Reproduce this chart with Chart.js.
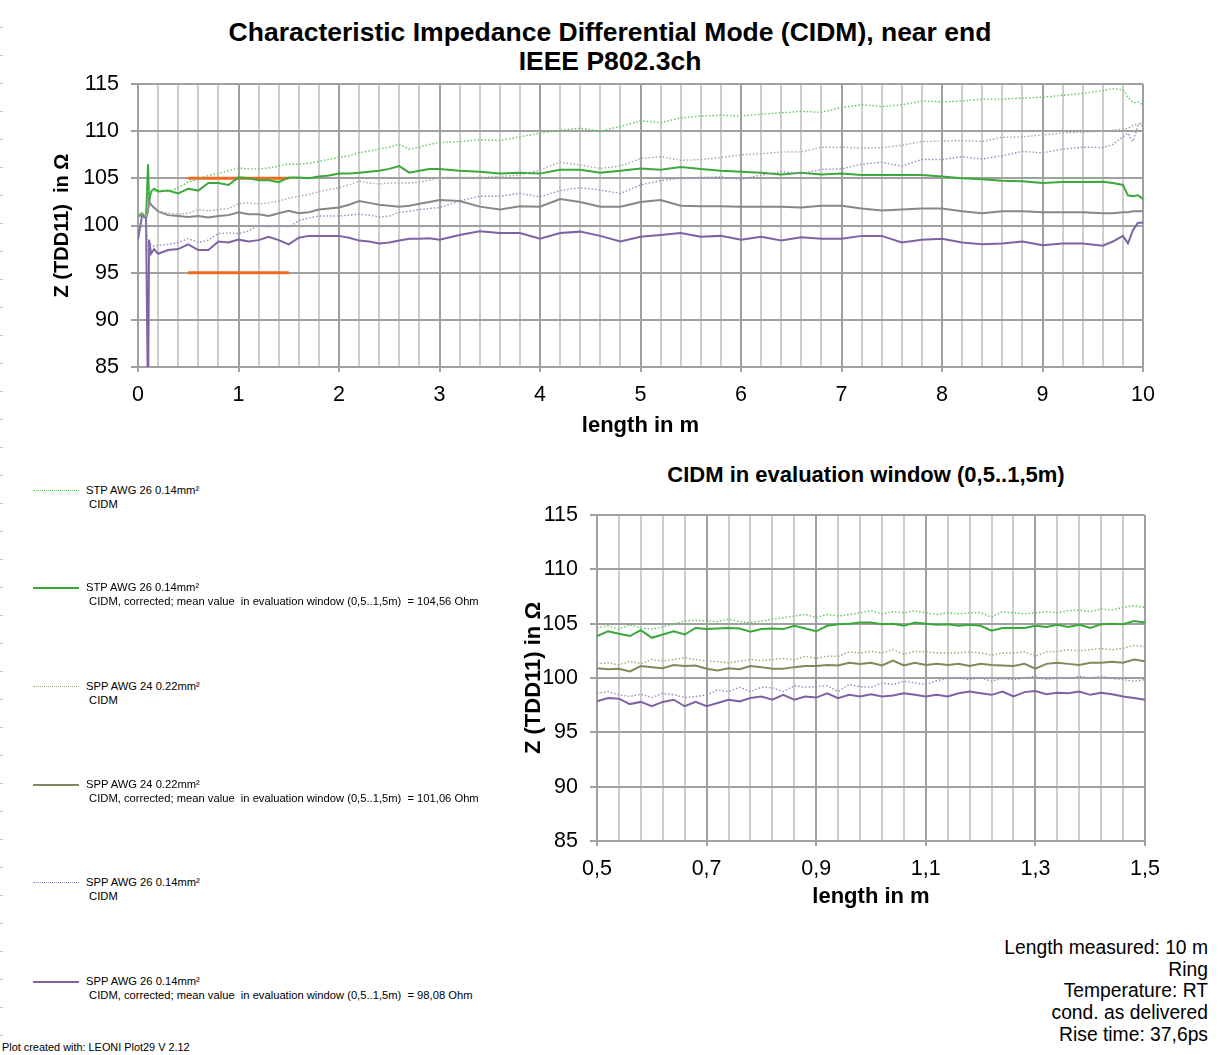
<!DOCTYPE html>
<html>
<head>
<meta charset="utf-8">
<script src="https://cdn.jsdelivr.net/npm/chart.js@4.4.1/dist/chart.umd.min.js"></script>
<style>
  body { margin: 0; background: #fff; font-family: Arial, "Liberation Sans", sans-serif; color: #000; }
  #page { position: relative; width: 1220px; height: 1055px; overflow: hidden; }
  .abs { position: absolute; }
  #edge { left: 0; top: 0; width: 3px; height: 1055px;
    background: repeating-linear-gradient(to bottom, transparent 0, transparent 27px, #c8c8c8 27px, #c8c8c8 28px); }
  #title { left: 0; top: 18px; width: 1220px; text-align: center; font-weight: bold; font-size: 26.5px; line-height: 29px; }
  #subTitle { left: 560px; top: 462px; width: 612px; text-align: center; font-weight: bold; font-size: 22px; line-height: 26px; }
  .leg { position: absolute; left: 33px; font-size: 11.2px; line-height: 13.5px; }
  .leg .smp { position: absolute; left: 0; top: 6px; width: 46px; height: 0; }
  .leg .txt { position: absolute; left: 53px; top: 0; white-space: pre; }
  #info { right: 12px; top: 937px; text-align: right; font-size: 19.3px; line-height: 21.7px; }
  #credit { left: 2px; top: 1041px; font-size: 10.9px; }
</style>
</head>
<body>
<div id="page">
  <div id="edge" class="abs"></div>
  <div id="title" class="abs">Characteristic Impedance Differential Mode (CIDM), near end<br>IEEE P802.3ch</div>
  <canvas id="topChart" class="abs" style="left:0;top:59px" width="1220" height="391"></canvas>
  <div id="subTitle" class="abs">CIDM in evaluation window (0,5..1,5m)</div>
  <canvas id="zoomChart" class="abs" style="left:440px;top:490px" width="780" height="430"></canvas>
  <div id="legend"></div>
  <div id="info" class="abs">Length measured: 10 m<br>Ring<br>Temperature: RT<br>cond. as delivered<br>Rise time: 37,6ps</div>
  <div id="credit" class="abs">Plot created with:  LEONI Plot29  V 2.12</div>
</div>
<script>
// full length 0..10 m
const topX = [0, 0.04, 0.08, 0.1, 0.11, 0.13, 0.16, 0.2, 0.3, 0.4, 0.5, 0.6, 0.7, 0.8, 0.9, 1.0,
  1.1, 1.2, 1.3, 1.4, 1.5, 1.6, 1.7, 1.8, 1.9, 2.0, 2.1, 2.2, 2.3, 2.4, 2.5, 2.6, 2.7, 2.8, 2.9, 3.0,
  3.2, 3.4, 3.6, 3.8, 4.0, 4.2, 4.4, 4.6, 4.8, 5.0, 5.2, 5.4, 5.6, 5.8, 6.0, 6.2, 6.4, 6.6, 6.8,
  7.0, 7.2, 7.4, 7.6, 7.8, 8.0, 8.2, 8.4, 8.6, 8.8, 9.0, 9.2, 9.4, 9.6, 9.7, 9.8, 9.85, 9.9, 9.95, 10];

const stpCidm = [101.0, 101.2, 101.0, 103.5, 103.0, 103.8, 103.6, 103.8, 103.6, 104.0, 104.6, 104.9, 105.3, 105.5, 105.8, 106.1,
  106.0, 106.0, 106.1, 106.3, 106.5, 106.5, 106.6, 106.8, 107.0, 107.2, 107.4, 107.7, 107.9, 108.1, 108.3, 108.6, 108.1, 108.3, 108.6, 108.8,
  108.9, 109.1, 109.0, 109.4, 109.8, 110.1, 110.3, 110.0, 110.5, 111.1, 110.9, 111.4, 111.6, 111.7, 111.6, 111.8, 111.95, 112.1, 112.0,
  112.5, 112.8, 112.6, 112.8, 113.2, 113.1, 113.2, 113.4, 113.4, 113.5, 113.6, 113.8, 114.0, 114.3, 114.5, 114.4, 113.6, 113.0, 113.1, 112.8];

const stpCorr = [101.0, 101.3, 100.8, 106.5, 102.5, 103.6, 103.9, 103.6, 103.7, 103.4, 103.9, 103.7, 104.5, 104.5, 104.3, 105.1,
  105.0, 104.8, 104.8, 104.6, 105.1, 105.1, 105.0, 105.2, 105.3, 105.5, 105.5, 105.6, 105.7, 105.8, 106.0, 106.3, 105.6, 105.8, 106.0, 106.0,
  105.8, 105.7, 105.5, 105.6, 105.5, 105.9, 105.9, 105.6, 105.8, 106.05, 105.9, 106.2, 106.0, 105.8, 105.7, 105.6, 105.4, 105.6, 105.4,
  105.5, 105.35, 105.35, 105.35, 105.35, 105.2, 105.0, 104.9, 104.75, 104.7, 104.5, 104.6, 104.6, 104.65, 104.5, 104.3, 103.2, 103.1, 103.2, 102.8];

const spp24Cidm = [101.0, 101.2, 100.9, 101.5, 102.3, 102.0, 101.8, 101.5, 101.3, 101.2, 101.3, 101.7, 101.55, 101.7, 101.8, 102.3,
  102.4, 102.3, 102.4, 102.6, 102.9, 103.1, 103.3, 103.6, 103.8, 104.0, 104.3, 104.7, 104.5, 104.4, 104.5, 104.5, 104.5, 104.6, 104.8, 105.1,
  105.1, 105.1, 105.2, 105.35, 105.9, 106.7, 106.4, 106.05, 106.3, 107.1, 107.3, 106.9, 107.0, 107.2, 107.5, 107.6, 107.8, 107.8, 108.3,
  108.3, 108.2, 108.25, 108.5, 108.9, 108.95, 109.0, 108.9, 109.35, 109.4, 109.6, 109.8, 109.9, 110.0, 110.1, 110.2, 110.3, 110.6, 110.8, 110.5];

const spp24Corr = [100.9, 101.2, 100.8, 101.5, 102.6, 102.2, 101.9, 101.5, 101.1, 101.0, 100.9, 101.0, 100.85, 101.0, 101.1, 101.4,
  101.2, 101.2, 101.0, 101.3, 101.55, 101.3, 101.4, 101.7, 101.8, 101.9, 102.2, 102.6, 102.4, 102.2, 102.1, 102.0, 102.1, 102.3, 102.5, 102.7,
  102.6, 102.0, 101.7, 102.05, 102.0, 102.8, 102.5, 102.0, 102.0, 102.5, 102.7, 102.1, 102.05, 102.05, 102.0, 102.0, 102.0, 101.9, 102.1,
  102.1, 101.8, 101.6, 101.7, 101.8, 101.8, 101.5, 101.3, 101.5, 101.5, 101.4, 101.4, 101.4, 101.3, 101.3, 101.4, 101.4, 101.5, 101.5, 101.5];

const spp26Cidm = [98.5, 101.0, 100.8, 97.0, 97.8, 98.0, 97.8, 97.9, 98.0, 98.2, 98.6, 98.2, 98.45, 99.15, 99.2, 99.15,
  99.4, 100.0, 99.85, 100.0, 99.85, 100.5, 100.8, 101.0, 101.0, 101.0, 101.1, 101.2, 101.1, 100.9, 101.0, 101.4, 101.5, 101.7, 101.8, 101.9,
  102.6, 103.1, 103.1, 103.4, 103.05, 103.7, 104.0, 103.75, 103.4, 104.3, 104.75, 105.0, 105.1, 105.15, 104.9, 105.35, 105.7, 105.5, 105.95,
  106.0, 106.5, 106.7, 106.3, 107.0, 107.0, 107.3, 107.05, 107.4, 107.85, 107.7, 108.1, 108.3, 108.25, 108.6, 109.4, 109.8, 108.9, 110.6, 111.0];

const spp26Corr = [98.5, 101.0, 100.8, 80.0, 98.5, 97.0, 97.5, 97.0, 97.4, 97.5, 98.0, 97.4, 97.4, 98.3, 98.2, 98.5,
  98.3, 98.45, 98.8, 98.45, 98.0, 98.7, 98.9, 98.9, 98.9, 98.9, 98.7, 98.4, 98.3, 98.1, 98.2, 98.4, 98.6, 98.6, 98.65, 98.5,
  99.0, 99.4, 99.2, 99.2, 98.6, 99.2, 99.35, 98.9, 98.3, 98.8, 99.0, 99.2, 98.8, 98.9, 98.5, 98.8, 98.4, 98.75, 98.6,
  98.6, 98.9, 98.9, 98.2, 98.5, 98.6, 98.2, 98.0, 98.1, 98.3, 97.9, 98.1, 98.1, 97.85, 98.3, 98.9, 98.1, 99.5, 100.3, 100.3];

// evaluation window limits
const limitX = [0.5, 1.5];
const limitHigh = [105, 105];
const limitLow = [95, 95];

// evaluation window 0.5..1.5 m
const winX = [0.50, 0.52, 0.54, 0.56, 0.58, 0.60, 0.62, 0.64, 0.66, 0.68, 0.70, 0.72, 0.74, 0.76, 0.78, 0.80, 0.82,
  0.84, 0.86, 0.88, 0.90, 0.92, 0.94, 0.96, 0.98, 1.00, 1.02, 1.04, 1.06, 1.08, 1.10, 1.12, 1.14, 1.16, 1.18,
  1.20, 1.22, 1.24, 1.26, 1.28, 1.30, 1.32, 1.34, 1.36, 1.38, 1.40, 1.42, 1.44, 1.46, 1.48, 1.50];

const winStpCidm = [104.6, 104.8, 104.5, 104.9, 104.6, 104.5, 104.7, 104.95, 105.25, 105.3, 105.25, 105.2, 105.4, 105.2, 105.1, 105.25, 105.4,
  105.55, 105.7, 105.85, 105.55, 105.85, 105.7, 105.85, 106.0, 106.2, 105.9, 106.1, 106.0, 106.2, 106.0, 105.85, 106.0, 105.9, 106.0,
  106.0, 105.6, 106.1, 106.0, 105.9, 106.0, 106.1, 106.0, 106.2, 106.25, 106.1, 106.35, 106.25, 106.5, 106.65, 106.5];

const winStpCorr = [103.86, 104.3, 104.07, 103.86, 104.4, 103.7, 104.0, 104.3, 104.0, 104.6, 104.5, 104.55, 104.6, 104.55, 104.25, 104.5, 104.55,
  104.5, 104.8, 104.55, 104.3, 104.8, 104.95, 105.0, 105.1, 105.1, 104.95, 105.0, 104.8, 105.1, 105.0, 104.9, 104.95, 104.8, 104.9,
  104.8, 104.35, 104.6, 104.6, 104.6, 104.8, 104.7, 104.9, 104.7, 104.9, 104.6, 104.95, 105.0, 104.95, 105.25, 105.1];

const winSpp24Cidm = [101.3, 101.4, 101.2, 101.55, 101.3, 101.7, 101.55, 101.7, 101.85, 101.7, 101.55, 101.5, 101.4, 101.55, 101.7, 101.6, 101.7,
  101.8, 101.7, 102.0, 101.8, 102.0, 102.0, 102.4, 102.3, 102.45, 102.3, 102.6, 102.2, 102.45, 102.4, 102.3, 102.3, 102.3, 102.4,
  102.3, 102.1, 102.3, 102.3, 102.4, 102.0, 102.4, 102.45, 102.6, 102.5, 102.6, 102.7, 102.6, 102.75, 103.0, 102.9];

const winSpp24Corr = [100.9, 100.8, 100.85, 100.6, 101.1, 101.0, 100.9, 101.2, 101.1, 101.15, 100.85, 100.7, 100.9, 100.8, 101.1, 101.0, 100.85,
  100.85, 101.0, 101.1, 101.1, 101.2, 101.15, 101.4, 101.3, 101.4, 101.15, 101.6, 101.15, 101.4, 101.2, 101.3, 101.2, 101.3, 101.1,
  101.3, 101.2, 101.15, 101.1, 101.3, 100.85, 101.3, 101.4, 101.3, 101.2, 101.4, 101.4, 101.5, 101.4, 101.7, 101.55];

const winSpp26Cidm = [98.6, 98.75, 98.45, 98.3, 98.5, 98.2, 98.6, 98.45, 98.2, 98.3, 98.45, 98.9, 98.75, 99.15, 98.75, 99.15, 99.1,
  98.75, 99.3, 99.15, 99.2, 99.3, 98.75, 99.4, 99.2, 99.15, 99.55, 99.4, 99.7, 99.55, 99.4, 99.75, 99.95, 100.0, 99.85,
  100.0, 99.7, 99.95, 99.85, 100.0, 100.15, 99.85, 100.0, 99.95, 100.15, 100.0, 100.15, 99.95, 99.85, 99.7, 99.85];

const winSpp26Corr = [97.85, 98.15, 98.1, 97.6, 97.8, 97.4, 97.8, 98.0, 97.4, 97.8, 97.4, 97.7, 98.0, 97.85, 98.15, 98.3, 98.0,
  98.45, 98.0, 98.3, 98.2, 98.6, 98.15, 98.45, 98.3, 98.5, 98.3, 98.4, 98.6, 98.45, 98.3, 98.45, 98.3, 98.6, 98.75,
  98.6, 98.45, 98.75, 98.3, 98.7, 98.8, 98.5, 98.65, 98.6, 98.75, 98.45, 98.65, 98.5, 98.3, 98.15, 98.0];

const legendEntries = [
  { name: 'STP AWG 26 0.14mm²', note: 'CIDM', color: '#5cc85c', dotted: true, top: 484 },
  { name: 'STP AWG 26 0.14mm²', note: 'CIDM, corrected; mean value  in evaluation window (0,5..1,5m)  = 104,56 Ohm', color: '#3aa83a', dotted: false, top: 581 },
  { name: 'SPP AWG 24 0.22mm²', note: 'CIDM', color: '#a3a37a', dotted: true, top: 680 },
  { name: 'SPP AWG 24 0.22mm²', note: 'CIDM, corrected; mean value  in evaluation window (0,5..1,5m)  = 101,06 Ohm', color: '#86865a', dotted: false, top: 778 },
  { name: 'SPP AWG 26 0.14mm²', note: 'CIDM', color: '#9c88c0', dotted: true, top: 876 },
  { name: 'SPP AWG 26 0.14mm²', note: 'CIDM, corrected; mean value  in evaluation window (0,5..1,5m)  = 98,08 Ohm', color: '#7f62a4', dotted: false, top: 975 }
];

const legendBox = document.getElementById('legend');
legendEntries.forEach(e => {
  const d = document.createElement('div');
  d.className = 'leg';
  d.style.top = e.top + 'px';
  d.innerHTML = '<div class="smp" style="border-top:' + (e.dotted ? '1px dotted ' : '2px solid ') + e.color + '"></div>' +
    '<div class="txt">' + e.name + '\n ' + e.note + '</div>';
  legendBox.appendChild(d);
});

const MAJOR = '#a0a0a0';
const MINOR = '#cdcdcd';
const FONT = 'Arial, "Liberation Sans", sans-serif';
Chart.defaults.font.family = FONT;
Chart.defaults.color = '#000';

function onStep(v, step, base) {
  const r = (v - base) / step;
  return Math.abs(r - Math.round(r)) < 1e-6;
}

function series(xs, ys, color, dotted, width) {
  return {
    data: xs.map((x, i) => ({ x: x, y: ys[i] })),
    borderColor: color,
    borderWidth: width || (dotted ? 1.4 : 2),
    borderDash: dotted ? [1.5, 2] : [],
    pointRadius: 0,
    fill: false,
    tension: 0
  };
}

function yScale(width, titleText, titleSize, titlePad) {
  return {
    type: 'linear', min: 85, max: 115,
    ticks: { stepSize: 5, padding: 12, font: { size: 21.5 }, color: '#000' },
    grid: { color: MAJOR, lineWidth: 2, tickLength: 7 },
    border: { color: MAJOR, width: 2 },
    title: { display: true, text: titleText, font: { size: titleSize, weight: 'bold' }, color: '#000', padding: { top: titlePad, bottom: 0 } },
    afterFit: s => { s.width = width; }
  };
}

function xScale(min, max, step, majorStep, fmt, height, titlePad) {
  return {
    type: 'linear', min: min, max: max,
    ticks: {
      stepSize: step, autoSkip: false, maxRotation: 0, padding: 10, font: { size: 21.5 }, color: '#000',
      callback: v => onStep(v, majorStep, min) ? fmt(v) : ''
    },
    grid: {
      lineWidth: 2, tickLength: 5,
      color: c => onStep(c.tick.value, majorStep, min) ? MAJOR : MINOR,
      tickColor: c => onStep(c.tick.value, majorStep, min) ? MAJOR : 'rgba(0,0,0,0)'
    },
    border: { color: MAJOR, width: 2 },
    title: { display: true, text: 'length in m', font: { size: 22, weight: 'bold' }, color: '#000', padding: { top: 0, bottom: titlePad } },
    afterFit: s => { s.height = height; }
  };
}

const baseOpts = {
  responsive: false,
  animation: false,
  plugins: { legend: { display: false }, tooltip: { enabled: false } },
  elements: { point: { radius: 0 } }
};

new Chart(document.getElementById('topChart'), {
  type: 'line',
  data: {
    datasets: [
      series(topX, stpCidm, '#5cc85c', true),
      series(topX, spp24Cidm, '#a6a6a6', true),
      series(topX, spp26Cidm, '#9c88c0', true),
      series(topX, spp26Corr, '#7f62a4', false),
      series(topX, spp24Corr, '#878787', false),
      series(topX, stpCorr, '#3aa83a', false),
      series(limitX, limitHigh, '#f26a1c', false, 3),
      series(limitX, limitLow, '#f26a1c', false, 3)
    ]
  },
  options: Object.assign({}, baseOpts, {
    layout: { padding: { top: 25, right: 77, left: 0, bottom: 0 } },
    scales: {
      x: xScale(0, 10, 0.2, 1, v => String(Math.round(v)), 83, 11),
      y: yScale(138, 'Z (TDD11)  in Ω', 20, 50)
    }
  })
});

new Chart(document.getElementById('zoomChart'), {
  type: 'line',
  data: {
    datasets: [
      series(winX, winStpCidm, '#5cc85c', true),
      series(winX, winSpp24Cidm, '#a3a37a', true),
      series(winX, winSpp26Cidm, '#9c88c0', true),
      series(winX, winSpp26Corr, '#7f62a4', false),
      series(winX, winSpp24Corr, '#86865a', false),
      series(winX, winStpCorr, '#3aa83a', false)
    ]
  },
  options: Object.assign({}, baseOpts, {
    layout: { padding: { top: 25, right: 75, left: 0, bottom: 0 } },
    scales: {
      x: xScale(0.5, 1.5, 0.04, 0.2, v => v.toFixed(1).replace('.', ','), 79, 10),
      y: yScale(157, 'Z (TDD11) in Ω', 22, 81)
    }
  })
});
</script>
</body>
</html>
